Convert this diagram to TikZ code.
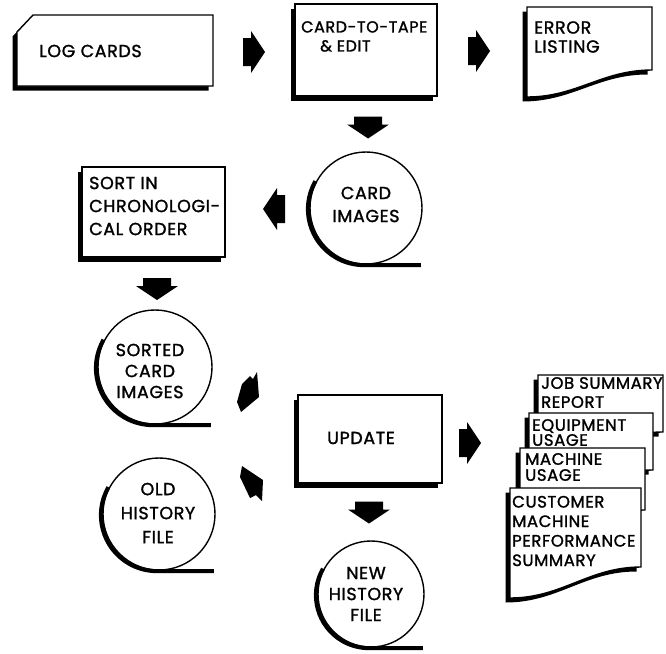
\documentclass[tikz,border=0pt]{standalone}
\usepackage{fontspec}
\setmainfont{Poppins}[FakeBold=1.4, LetterSpace=3.5]
\usetikzlibrary{shadows}
\tikzset{
 outl/.style={line width=1.4pt},
 box/.style={draw, line width=1.4pt, fill=white, rectangle, inner sep=0pt,
   drop shadow={shadow xshift=-4.5pt, shadow yshift=-4.5pt, fill=black, opacity=1}},
 reel/.style={draw, circle, line width=1.4pt, fill=white, inner sep=0pt},
 txt/.style={inner sep=0pt, font=\fontsize{17.5}{22}\selectfont, align=center},
 ltxt/.style={inner sep=0pt, font=\fontsize{17.5}{22}\selectfont, align=left},
 dtxt/.style={inner sep=0pt, font=\fontsize{16.5}{19}\selectfont, align=left},
 blk/.pic={\fill (-11,-14) -- (-3,-14) -- (-3,-21) -- (11,0) -- (-3,21) -- (-3,14) -- (-11,14) -- cycle;}
}
\newcommand\docshape[5]{%
 \begin{scope}[shift={(-4.5,4.5)}]
  \fill (#1,#2) -- (#3,#2) -- (#3,#4) .. controls ({#3-0.4*(#3-#1)},#4) and ({#1+0.4*(#3-#1)},#5) .. (#1,#5) -- cycle;
 \end{scope}
 \filldraw[fill=white, outl] (#1,#2) -- (#3,#2) -- (#3,#4) .. controls ({#3-0.4*(#3-#1)},#4) and ({#1+0.4*(#3-#1)},#5) .. (#1,#5) -- cycle;}
\newcommand\reeltail[2]{%
 \draw[line width=4pt] ([shift={(-1.5,1.5)}]#1.150) arc[start angle=210, end angle=90, radius=#2] -- ++({#2+1},0);}
\begin{document}
\begin{tikzpicture}[x=1pt,y=-1pt]
\useasboundingbox (0,0) rectangle (666,653);

% LOG CARDS
\fill (12.5,36.5) -- (28.5,19.5) -- (208.5,19.5) -- (208.5,90.5) -- (12.5,90.5) -- cycle;
\filldraw[fill=white, outl] (17,32) -- (33,15) -- (213,15) -- (213,86) -- (17,86) -- cycle;
\node[ltxt, anchor=west] (log) at (39,51) {LOG CARDS};

% CARD-TO-TAPE & EDIT
\node[box, minimum width=142pt, minimum height=92pt] (tape) at (366,50) {};
\node[ltxt, anchor=north west, font=\fontsize{16}{19}\selectfont] (tapet) at (301,21) {CARD-TO-TAPE\\\hspace*{19pt}\& EDIT};

% ERROR LISTING
\docshape{527}{7}{652}{70}{97}
\node[ltxt, anchor=west, font=\fontsize{17.5}{19}\selectfont] (err) at (534,37) {ERROR\\LISTING};

% CARD IMAGES
\node[reel, minimum size=112pt] (cimg) at (366,208) {};
\reeltail{cimg}{56}
\node[txt, font=\fontsize{17.5}{23}\selectfont] (cimgt) at (366,204.5) {CARD\\IMAGES};

% SORT
\node[box, minimum width=143pt, minimum height=90pt] (sort) at (153.5,212) {};
\node[ltxt, anchor=west, font=\fontsize{17.5}{23}\selectfont] (sortt) at (89,206) {SORT IN\\CHRONOLOGI-\\CAL ORDER};

% SORTED CARD IMAGES
\node[reel, minimum size=114pt] (sorted) at (155,367) {};
\reeltail{sorted}{57}
\node[txt, font=\fontsize{17.5}{21}\selectfont] (sortedt) at (150,371) {SORTED\\CARD\\IMAGES};

% OLD HISTORY FILE
\node[reel, minimum size=112pt] (old) at (159,514) {};
\reeltail{old}{56}
\node[txt, font=\fontsize{17.5}{24}\selectfont] (oldt) at (158,513) {OLD\\HISTORY\\FILE};

% UPDATE
\node[box, minimum width=144pt, minimum height=88pt] (upd) at (370,439) {};
\node[txt] (updt) at (361,438) {UPDATE};

% NEW HISTORY FILE
\node[reel, minimum size=106pt] (new) at (371,594) {};
\reeltail{new}{53}
\node[txt, font=\fontsize{17.5}{21}\selectfont] (newt) at (366,594) {NEW\\HISTORY\\FILE};

% Reports stack
\docshape{538}{375}{663}{432}{457}
\node[dtxt, anchor=west] (job) at (541,392.5) {JOB SUMMARY\\REPORT};
\docshape{529}{413}{653}{470}{495}
\node[dtxt, anchor=west, font=\fontsize{16.5}{15}\selectfont] (equip) at (532,432.5) {EQUIPMENT\\USAGE};
\docshape{520}{448}{645}{510}{535}
\node[dtxt, anchor=west, font=\fontsize{16.5}{16}\selectfont] (mach) at (525,467) {MACHINE\\USAGE};
\docshape{510}{488}{641}{567}{598}
\node[dtxt, anchor=west, font=\fontsize{16.5}{19.5}\selectfont] (cust) at (512,531) {CUSTOMER\\MACHINE\\PERFORMANCE\\SUMMARY};

% block arrows
\pic at (254,52) {blk};
\pic at (479,51) {blk};
\pic[rotate=-90] at (368,127.5) {blk};
\pic[rotate=180] at (274,209) {blk};
\pic[rotate=-90] at (157,289) {blk};
\pic at (470,443) {blk};
\pic[rotate=-90] at (369,512.5) {blk};
\fill (242,384) -- (250,376) -- (253,379) -- (257,372) -- (259,397) -- (241,412) -- (237,402) -- cycle;
\fill (242,466) -- (263,480) -- (262,501) -- (256,495) -- (250,498) -- (240,477) -- cycle;
\end{tikzpicture}
\end{document}
